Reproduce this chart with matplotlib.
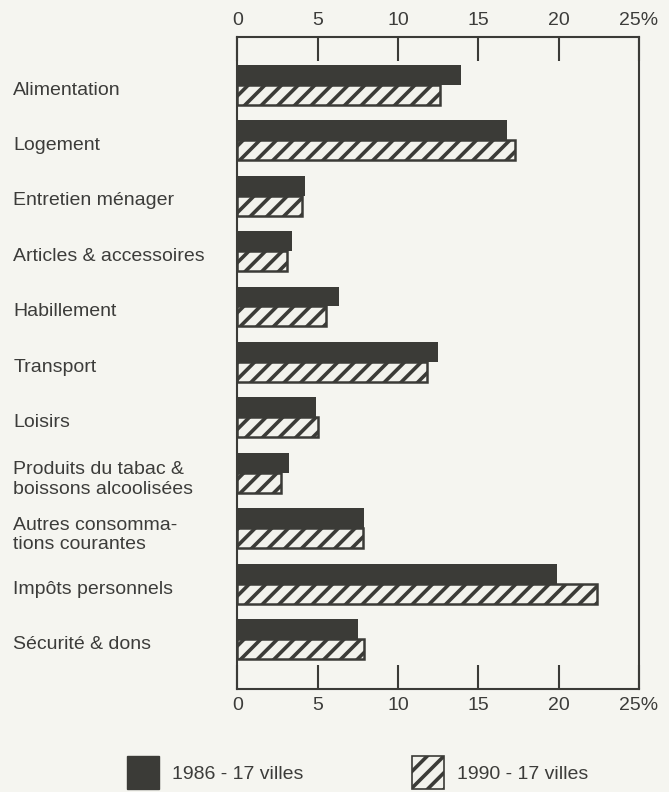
import matplotlib
matplotlib.use("Agg")
import matplotlib.pyplot as plt
import numpy as np
from matplotlib.patches import Patch

categories = [
    "Alimentation",
    "Logement",
    "Entretien ménager",
    "Articles & accessoires",
    "Habillement",
    "Transport",
    "Loisirs",
    "Produits du tabac &\nboissons alcoolisées",
    "Autres consomma-\ntions courantes",
    "Impôts personnels",
    "Sécurité & dons",
]
values_1986 = [13.9, 16.8, 4.2, 3.4, 6.3, 12.5, 4.9, 3.2, 7.9, 19.9, 7.5]
values_1990 = [12.6, 17.3, 4.0, 3.1, 5.5, 11.8, 5.0, 2.7, 7.8, 22.4, 7.9]
tick_values = [0, 5, 10, 15, 20, 25]
tick_labels = ["0", "5", "10", "15", "20", "25%"]
legend_labels = ["1986 - 17 villes", "1990 - 17 villes"]

BG = "#f5f5f0"
DARK = "#3b3b37"
TXT = "#3c3c3a"

plt.rcParams["font.family"] = ["Liberation Sans", "DejaVu Sans"]
plt.rcParams["hatch.linewidth"] = 2.6

fig = plt.figure(figsize=(6.69, 7.92), dpi=100, facecolor=BG)
ax = fig.add_axes([0.355, 0.130, 0.6, 0.823])
ax.set_facecolor(BG)

y = np.arange(len(categories))
h = 0.36
ax.barh(y - 0.18, values_1986, height=h, color=DARK, edgecolor=DARK, linewidth=0)
ax.barh(y + 0.18, values_1990, height=h, color="#f2f2ec", edgecolor=DARK,
        linewidth=1.8, hatch="//")

ax.set_xlim(0, 25)
ax.set_ylim(10.90, -0.857)

ax.set_xticks(tick_values)
ax.set_xticklabels(tick_labels)
ax.tick_params(axis="x", which="both", direction="in", length=17, width=1.5,
               color=DARK, labelsize=14, labelcolor=TXT, top=True, labeltop=True,
               bottom=True, labelbottom=True, pad=6)

ax.set_yticks(y + 0.06)
ax.set_yticklabels(categories, fontsize=14, color=TXT, ha="left")
ax.tick_params(axis="y", length=0, pad=161.5)

for s in ax.spines.values():
    s.set_color(DARK)
    s.set_linewidth(1.5)

handles = [
    Patch(facecolor=DARK, edgecolor=DARK),
    Patch(facecolor="#f2f2ec", edgecolor=DARK, hatch="//", linewidth=1.2),
]
fig.legend(handles, legend_labels, loc="lower center", bbox_to_anchor=(0.535, -0.018),
           ncol=2, frameon=False, fontsize=14, handlelength=1.6, handleheight=2.2,
           columnspacing=5.6, handletextpad=0.7, labelcolor=TXT)

fig.savefig("out.png", dpi=100, facecolor=BG)
